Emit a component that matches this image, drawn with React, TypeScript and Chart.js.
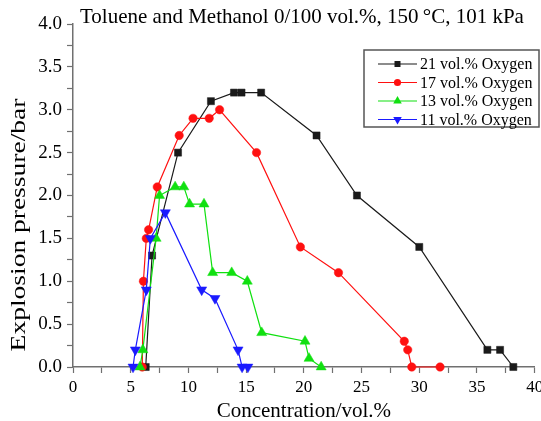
import React, { useEffect, useRef } from 'react';
import { Chart, registerables } from 'chart.js';

Chart.register(...registerables);

const FONT = '"Liberation Serif", "Times New Roman", serif';

const chartTitle = 'Toluene and Methanol 0/100 vol.%, 150\u2009°C, 101 kPa';
const xTitle = 'Concentration/vol.%';
const yTitle = 'Explosion pressure/bar';

const seriesLabels = ['21 vol.% Oxygen', '17 vol.% Oxygen', '13 vol.% Oxygen', '11 vol.% Oxygen'];

const o21X = [6.3, 6.85, 9.1, 11.95, 13.95, 14.6, 16.3, 21.1, 24.6, 30.0, 35.9, 37.0, 38.15];
const o21Y = [0, 1.3, 2.5, 3.1, 3.2, 3.2, 3.2, 2.7, 2.0, 1.4, 0.2, 0.2, 0];

const o17X = [6.0, 6.1, 6.35, 6.55, 7.3, 9.2, 10.4, 11.8, 12.7, 15.9, 19.7, 23.0, 28.7, 29.0, 29.35, 31.8];
const o17Y = [0, 1.0, 1.5, 1.6, 2.1, 2.7, 2.9, 2.9, 3.0, 2.5, 1.4, 1.1, 0.3, 0.2, 0, 0];

const o13X = [5.8, 6.05, 7.2, 7.5, 8.85, 9.6, 10.1, 11.35, 12.1, 13.75, 15.1, 16.35, 20.1, 20.45, 21.5];
const o13Y = [0, 0.2, 1.5, 2.0, 2.1, 2.1, 1.9, 1.9, 1.1, 1.1, 1.0, 0.4, 0.3, 0.1, 0];

const o11X = [5.2, 5.4, 6.35, 6.7, 8.0, 11.15, 12.3, 14.3, 14.65, 15.15];
const o11Y = [0, 0.2, 0.9, 1.5, 1.8, 0.9, 0.8, 0.2, 0, 0];

const seriesColors = ['#1a1a1a', '#ff1010', '#10e010', '#1a1aff'];
const seriesStyles = ['rect', 'circle', 'triangle', 'triangle'];
const seriesRotation = [0, 0, 0, 180];
const seriesRadius = [5, 4.2, 5.8, 5.8];

const xMin = 0, xMax = 40, xStep = 2.5, xLabelEvery = 5;
const yMin = 0, yMax = 4, yStep = 0.25, yLabelEvery = 0.5;

const AXIS_COLOR = '#707070';

function drawMarker(ctx: CanvasRenderingContext2D, style: string, x: number, y: number, r: number, rotDeg: number) {
  ctx.beginPath();
  if (style === 'rect') {
    const s = r * Math.SQRT1_2;
    ctx.rect(x - s, y - s, 2 * s, 2 * s);
  } else if (style === 'circle') {
    ctx.arc(x, y, r, 0, Math.PI * 2);
  } else {
    let rad = (rotDeg * Math.PI) / 180;
    ctx.moveTo(x + Math.sin(rad) * r, y - Math.cos(rad) * r);
    rad += (2 * Math.PI) / 3;
    ctx.lineTo(x + Math.sin(rad) * r, y - Math.cos(rad) * r);
    rad += (2 * Math.PI) / 3;
    ctx.lineTo(x + Math.sin(rad) * r, y - Math.cos(rad) * r);
    ctx.closePath();
  }
  ctx.fill();
}

const overlayPlugin = {
  id: 'overlayText',
  afterDraw(chart: any) {
    const ctx: CanvasRenderingContext2D = chart.ctx;
    const area = chart.chartArea;
    ctx.save();
    ctx.fillStyle = '#000';
    // chart title
    ctx.font = `21px ${FONT}`;
    ctx.textAlign = 'left';
    ctx.textBaseline = 'middle';
    ctx.fillText(chartTitle, 80, 17);
    // x title
    ctx.font = `21px ${FONT}`;
    ctx.textAlign = 'center';
    ctx.fillText(xTitle, (area.left + area.right) / 2, 411);
    // y title
    ctx.save();
    ctx.translate(19, 225);
    ctx.rotate(-Math.PI / 2);
    ctx.scale(1.25, 1);
    ctx.font = `22px ${FONT}`;
    ctx.fillText(yTitle, 0, 0);
    ctx.restore();

    // legend
    const bx = 364, by = 50, bw = 175, bh = 77;
    ctx.fillStyle = '#fff';
    ctx.fillRect(bx, by, bw, bh);
    ctx.strokeStyle = '#555';
    ctx.lineWidth = 1.5;
    ctx.strokeRect(bx, by, bw, bh);
    ctx.font = `16px ${FONT}`;
    ctx.textAlign = 'left';
    ctx.textBaseline = 'middle';
    chart.data.datasets.forEach((ds: any, i: number) => {
      const y = by + 14 + i * 18.5;
      ctx.strokeStyle = seriesColors[i];
      ctx.lineWidth = 1.2;
      ctx.beginPath();
      ctx.moveTo(378, y);
      ctx.lineTo(417, y);
      ctx.stroke();
      ctx.fillStyle = seriesColors[i];
      drawMarker(ctx, seriesStyles[i], 397.5, y, seriesRadius[i] * 0.85, seriesRotation[i]);
      ctx.fillStyle = '#000';
      ctx.fillText(ds.label, 420, y + 1);
    });
    ctx.restore();
  },
};

function pts(xs: number[], ys: number[]) {
  return xs.map((x, i) => ({ x, y: ys[i] }));
}

export default function App() {
  const ref = useRef<HTMLCanvasElement>(null);
  useEffect(() => {
    const canvas = ref.current;
    if (!canvas) return;
    const xsList = [o21X, o17X, o13X, o11X];
    const ysList = [o21Y, o17Y, o13Y, o11Y];
    const datasets = seriesLabels.map((label, i) => ({
      label,
      data: pts(xsList[i], ysList[i]),
      showLine: true,
      borderColor: seriesColors[i],
      backgroundColor: seriesColors[i],
      pointBackgroundColor: seriesColors[i],
      pointBorderColor: seriesColors[i],
      pointBorderWidth: 0.5,
      borderWidth: 1.2,
      pointStyle: seriesStyles[i] as any,
      pointRotation: seriesRotation[i],
      pointRadius: seriesRadius[i],
      tension: 0,
      clip: false as any,
      order: 3 - i,
    }));
    const chart = new Chart(canvas, {
      type: 'scatter',
      data: { datasets },
      options: {
        animation: false,
        responsive: false,
        maintainAspectRatio: false,
        layout: { padding: { top: 24, right: 6, left: 0, bottom: 0 } },
        plugins: {
          legend: { display: false },
          tooltip: { enabled: false },
          title: { display: false },
        },
        scales: {
          x: {
            type: 'linear',
            min: xMin,
            max: xMax,
            afterFit(s: any) {
              s.height = 54;
              s.paddingLeft = 0;
              s.paddingRight = 0;
            },
            ticks: {
              stepSize: xStep,
              autoSkip: false,
              maxRotation: 0,
              padding: 4,
              color: '#000',
              font: { family: FONT, size: 17 },
              callback: (v: any) => (Math.abs(v / xLabelEvery - Math.round(v / xLabelEvery)) < 1e-6 ? String(v) : ''),
            },
            grid: { drawOnChartArea: false, tickLength: 6, color: AXIS_COLOR, tickWidth: 1.2 },
            border: { color: AXIS_COLOR, width: 1.5 },
          },
          y: {
            type: 'linear',
            min: yMin,
            max: yMax,
            afterFit(s: any) {
              s.width = 73;
              s.paddingTop = 0;
              s.paddingBottom = 0;
            },
            ticks: {
              stepSize: yStep,
              autoSkip: false,
              padding: 5,
              color: '#000',
              font: { family: FONT, size: 19 },
              callback: (v: any) => (Math.abs(v / yLabelEvery - Math.round(v / yLabelEvery)) < 1e-6 ? Number(v).toFixed(1) : ''),
            },
            grid: { drawOnChartArea: false, tickLength: 6, color: AXIS_COLOR, tickWidth: 1.2 },
            border: { color: AXIS_COLOR, width: 1.5 },
          },
        },
      },
      plugins: [overlayPlugin],
    });
    return () => chart.destroy();
  }, []);
  return (
    <div style={{ position: 'fixed', left: 0, top: 0, width: 541, height: 421, background: '#fff' }}>
      <canvas ref={ref} width={541} height={421} style={{ display: 'block', width: 541, height: 421 }} />
    </div>
  );
}
